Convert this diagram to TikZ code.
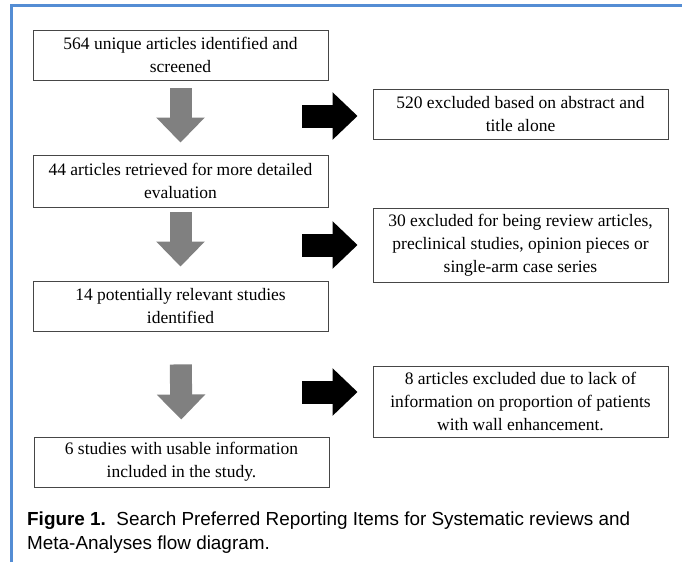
\documentclass[tikz,border=0pt]{standalone}
\usepackage{fontspec}
\setmainfont{Liberation Serif}
\setsansfont{Liberation Sans}
\usepackage{tikz}
\usetikzlibrary{positioning, arrows.meta}
\definecolor{frameblue}{RGB}{84,141,212}
\definecolor{boxgray}{RGB}{70,70,70}

\begin{document}
\begin{tikzpicture}[
        x=1pt, y=-1pt,
        bx/.style={draw=boxgray, line width=0.9pt, minimum width=295pt, align=center,
          inner sep=2pt, font=\fontsize{17.5}{23}\selectfont},
        ga/.style={draw=gray, line width=22pt, line cap=butt,
          -{Triangle[width=47pt,length=25pt]}},
        ba/.style={draw=black, line width=23pt, line cap=butt,
          -{Triangle[width=46pt,length=25pt]}},
      ]
      \useasboundingbox (0,0) rectangle (682,562);
      \draw[frameblue, line width=3pt] (11,562) -- (11,5) -- (682,5);
      % main column
      \node[bx, minimum height=50pt] (s1) at (180.5,55) {564 unique articles identified and\\screened};
      \node[bx, minimum height=52pt] (s2) at (180.5,181) {44 articles retrieved for more detailed\\evaluation};
      \node[bx, minimum height=50pt] (s3) at (180.5,306) {14 potentially relevant studies\\identified};
      \node[bx, minimum height=50pt] (s4) at (181.5,462) {6 studies with usable information\\included in the study.};
      % excluded
      \node[bx, minimum height=50pt] (r1) at (520.5,114) {520 excluded based on abstract and\\title alone};
      \node[bx, minimum height=74pt] (r2) at (520.5,245) {30 excluded for being review articles,\\preclinical studies, opinion pieces or\\single-arm case series};
      \node[bx, minimum height=71pt] (r3) at (520.5,401.5) {8 articles excluded due to lack of\\information on proportion of patients\\with wall enhancement.};
      \coordinate (e1) at (302,116);
      \coordinate (e2) at (302,245);
      \coordinate (e3) at (302,392);
      \draw[ga, shorten <=8pt, shorten >=12pt] (s1) -- (s2);
      \draw[ga, shorten <=5pt, shorten >=14pt] (s2) -- (s3);
      \draw[ga, shorten <=33pt, shorten >=17pt] (s3) -- (s4);
      \draw[ba, shorten >=15pt] (e1) -- (e1 -| r1.west);
      \draw[ba, shorten >=15pt] (e2) -- (e2 -| r2.west);
      \draw[ba, shorten >=15pt] (e3) -- (e3 -| r3.west);
      \node[anchor=west, align=left, inner sep=0pt, font=\sffamily\fontsize{18.9}{24}\selectfont]
        (cap) at (27,533) {\textbf{Figure 1.}\ \ Search Preferred Reporting Items for Systematic reviews and\\Meta-Analyses flow diagram.};
    \end{tikzpicture}
\end{document}
